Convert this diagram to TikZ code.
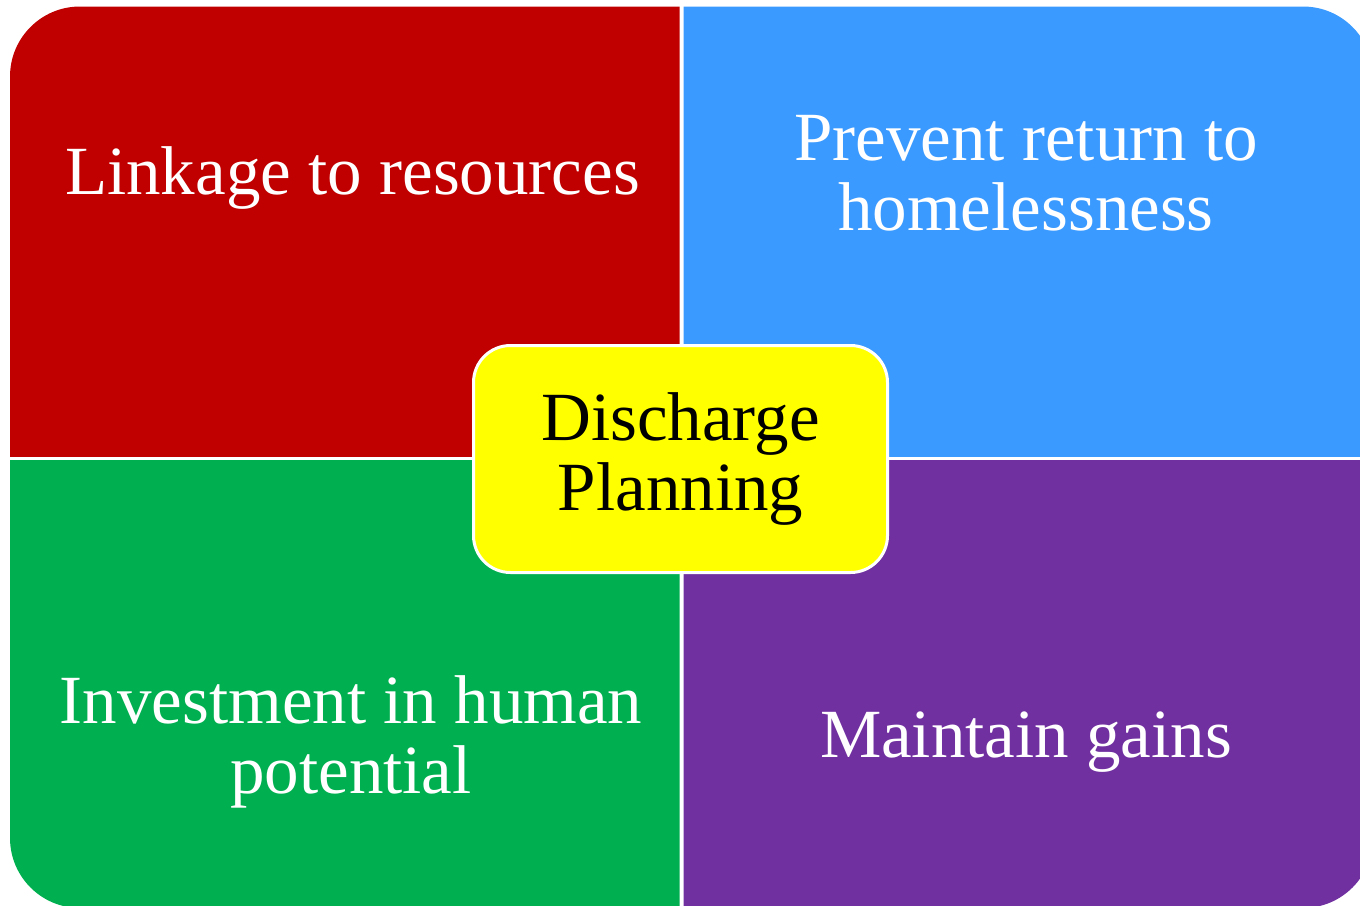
\documentclass[tikz,border=0pt]{standalone}
\usepackage{fontspec}
\setmainfont{Liberation Serif}
\usepackage{xcolor}
\usepackage{tikz}
\definecolor{quadred}{HTML}{C00000}
\definecolor{quadblue}{HTML}{3A9AFF}
\definecolor{quadgreen}{HTML}{00B050}
\definecolor{quadpurple}{HTML}{7030A0}
\definecolor{hubyellow}{HTML}{FFFF00}
\tikzset{quadtext/.style={text=white,align=center,font=\fontsize{34.5}{35}\selectfont},
	hub/.style={fill=hubyellow,draw=white,line width=1.5pt,rounded corners=18.5pt,minimum width=207pt,minimum height=113.5pt,align=center,font=\fontsize{34.5}{35}\selectfont}}

\begin{document}
\begin{tikzpicture}[x=0.5pt,y=-0.5pt]
		\useasboundingbox (0,0) rectangle (1360,905);
		\clip (0,0) rectangle (1360,905);
		% four quadrants cut out of one rounded block
		\foreach \col/\xa/\ya/\xb/\yb in {quadred/10/6.5/679.5/456.5,quadblue/683.5/6.5/1373/456.5,quadgreen/10/460.5/679.5/908,quadpurple/683.5/460.5/1373/908}{
			\begin{scope}
				\clip (\xa,\ya) rectangle (\xb,\yb);
				\fill[\col,rounded corners=35pt] (10,6.5) rectangle (1373,908);
			\end{scope}
		}
		% base anchor sits on the last line
		\node[quadtext,anchor=base] (linkage) at (352.5,194) {Linkage to resources};
		\node[quadtext,anchor=base] (prevent) at (1026,230) {Prevent return to\\homelessness};
		\node[quadtext,anchor=base] (invest) at (351,793) {Investment in human\\potential};
		\node[quadtext,anchor=base] (maintain) at (1026,757) {Maintain gains};
		\node[hub] (discharge) at (680.5,459) {Discharge\\Planning};
\end{tikzpicture}
\end{document}
